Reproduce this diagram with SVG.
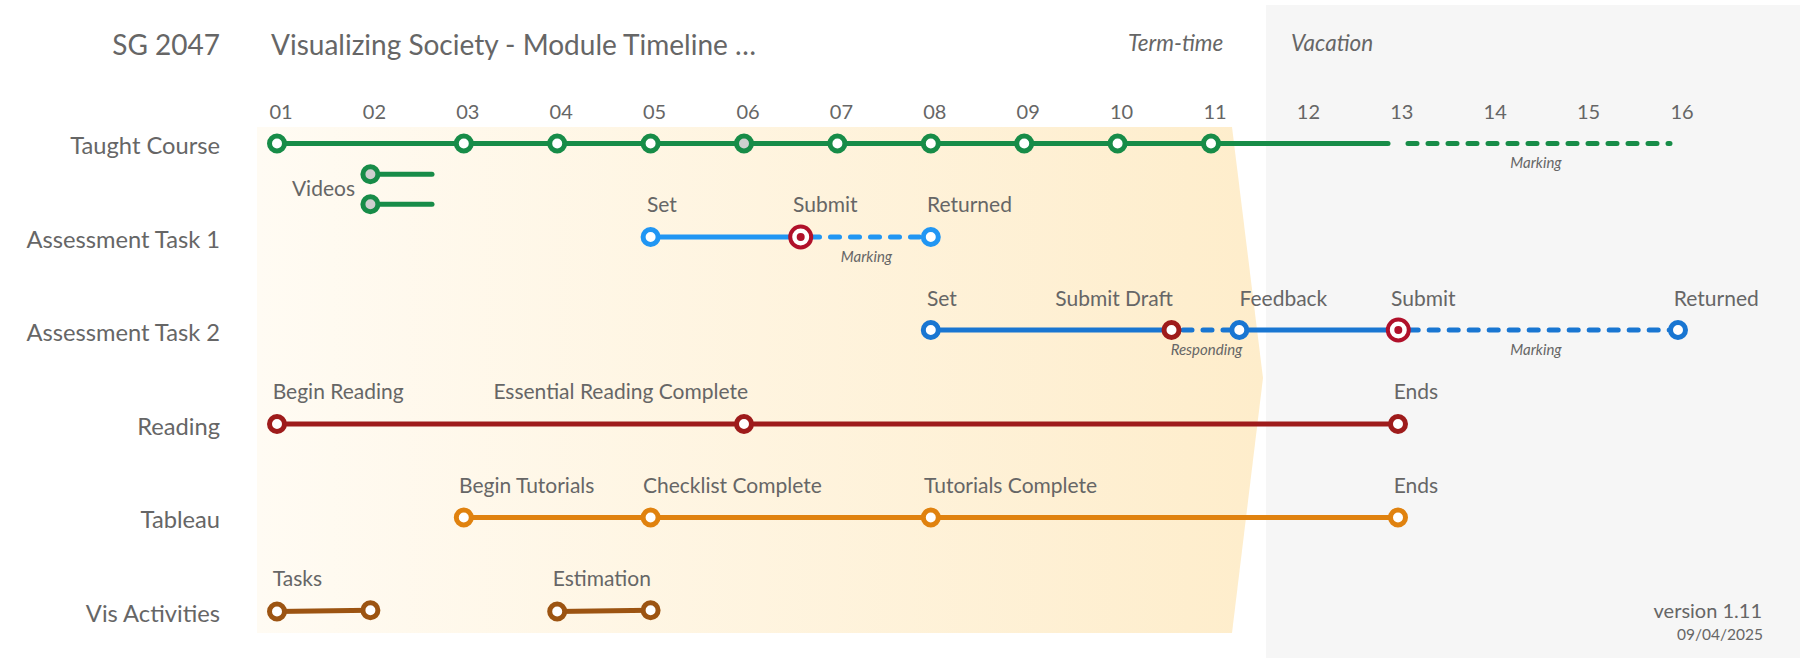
<svg xmlns="http://www.w3.org/2000/svg" width="1800" height="664" viewBox="0 0 1800 664">
  <defs>
    <linearGradient id="termGrad" x1="257" y1="0" x2="1263" y2="0" gradientUnits="userSpaceOnUse">
      <stop offset="0" stop-color="#FFFBF3"/>
      <stop offset="1" stop-color="#FEEDCB"/>
    </linearGradient>
    <style>
      text { font-family: Lato, "Liberation Sans", sans-serif; fill: #666666; }
      .title { font-size: 28px; }
      .week { font-size: 20px; text-anchor: middle; }
      .row { font-size: 23.7px; text-anchor: end; }
      .lbl { font-size: 21px; }
      .lbl-end { font-size: 21px; text-anchor: end; }
      .note { font-size: 15px; font-style: italic; text-anchor: middle; }
      .period { font-size: 22.5px; font-style: italic; }
      .line { fill: none; stroke-width: 5; stroke-linecap: round; }
      .dash { stroke-dasharray: 9 11; }
      .green { stroke: #178C48; }
      .blue1 { stroke: #2196F3; }
      .blue2 { stroke: #1976D2; }
      .red { stroke: #9E1B1B; }
      .orange { stroke: #E0820F; }
      .brown { stroke: #9C5412; }
      .node { fill: #FFFFFF; stroke-width: 5; }
      .node.grey { fill: #CFCFCF; }
      .target { fill: #FFFFFF; stroke: #B0102A; stroke-width: 4; }
      .dot { fill: #B0102A; }
    </style>
  </defs>

  <!-- background periods -->
  <g id="backgrounds">
    <rect x="1266" y="5" width="534" height="653" fill="#F6F6F6"/>
    <polygon points="257,127 1232,127 1263,378 1232,633 257,633" fill="url(#termGrad)"/>
  </g>

  <!-- header -->
  <g id="header">
    <text class="title" x="220" y="55" text-anchor="end">SG 2047</text>
    <text class="title" x="271" y="55">Visualizing Society - Module Timeline …</text>
    <text class="period" x="1128" y="51">Term-time</text>
    <text class="period" x="1291" y="51">Vacation</text>
  </g>

  <g id="weeks">
    <text class="week" x="281" y="119">01</text>
    <text class="week" x="374.4" y="119">02</text>
    <text class="week" x="467.8" y="119">03</text>
    <text class="week" x="561.2" y="119">04</text>
    <text class="week" x="654.6" y="119">05</text>
    <text class="week" x="748" y="119">06</text>
    <text class="week" x="841.4" y="119">07</text>
    <text class="week" x="934.8" y="119">08</text>
    <text class="week" x="1028.2" y="119">09</text>
    <text class="week" x="1121.6" y="119">10</text>
    <text class="week" x="1215" y="119">11</text>
    <text class="week" x="1308.4" y="119">12</text>
    <text class="week" x="1401.8" y="119">13</text>
    <text class="week" x="1495.2" y="119">14</text>
    <text class="week" x="1588.6" y="119">15</text>
    <text class="week" x="1682" y="119">16</text>
  </g>

  <g id="row-labels">
    <text class="row" x="220" y="154">Taught Course</text>
    <text class="row" x="220" y="248">Assessment Task 1</text>
    <text class="row" x="220" y="341">Assessment Task 2</text>
    <text class="row" x="220" y="435">Reading</text>
    <text class="row" x="220" y="528">Tableau</text>
    <text class="row" x="220" y="622">Vis Activities</text>
  </g>

  <!-- connectors -->
  <g id="connectors">
    <path class="line green" d="M277 143.5 H1388"/>
    <path class="line green dash" d="M1408 143.5 H1670"/>
    <path class="line green" stroke-width="4.5" d="M370.4 174.3 H432"/>
    <path class="line green" stroke-width="4.5" d="M370.4 204.3 H432"/>
    <path class="line blue1" d="M650.6 237 H800.7"/>
    <path class="line blue1 dash" d="M810.5 237 H926"/>
    <path class="line blue2" d="M930.8 330 H1171.5"/>
    <path class="line blue2 dash" d="M1183 330 H1232"/>
    <path class="line blue2" d="M1239.3 330 H1398.3"/>
    <path class="line blue2 dash" d="M1409.2 330 H1670"/>
    <path class="line red" d="M277 424 H1398"/>
    <path class="line orange" d="M463.8 517.5 H1398"/>
    <path class="line brown" stroke-width="4.5" d="M277 611.5 L370.4 610.3"/>
    <path class="line brown" stroke-width="4.5" d="M557.2 611.5 L650.6 610.3"/>
  </g>

  <g id="connector-labels">
    <text class="note" x="1536" y="168">Marking</text>
    <text class="note" x="866.5" y="262">Marking</text>
    <text class="note" x="1206.5" y="355">Responding</text>
    <text class="note" x="1536" y="355">Marking</text>
  </g>

  <!-- Taught Course nodes -->
  <g id="tc-w01"><circle class="node green" cx="277" cy="143.5" r="7.5"/></g>
  <g id="tc-w03"><circle class="node green" cx="463.8" cy="143.5" r="7.5"/></g>
  <g id="tc-w04"><circle class="node green" cx="557.2" cy="143.5" r="7.5"/></g>
  <g id="tc-w05"><circle class="node green" cx="650.6" cy="143.5" r="7.5"/></g>
  <g id="tc-w06"><circle class="node grey green" cx="744" cy="143.5" r="7.5"/></g>
  <g id="tc-w07"><circle class="node green" cx="837.4" cy="143.5" r="7.5"/></g>
  <g id="tc-w08"><circle class="node green" cx="930.8" cy="143.5" r="7.5"/></g>
  <g id="tc-w09"><circle class="node green" cx="1024.2" cy="143.5" r="7.5"/></g>
  <g id="tc-w10"><circle class="node green" cx="1117.6" cy="143.5" r="7.5"/></g>
  <g id="tc-w11"><circle class="node green" cx="1211" cy="143.5" r="7.5"/></g>

  <g id="videos">
    <text class="lbl-end" x="355" y="196">Videos</text>
    <circle class="node grey green" cx="370.4" cy="174.3" r="7.5"/>
    <circle class="node grey green" cx="370.4" cy="204.3" r="7.5"/>
  </g>

  <!-- Assessment Task 1 -->
  <g id="at1-set">
    <circle class="node blue1" cx="650.6" cy="237" r="7.5"/>
    <text class="lbl" x="647" y="212">Set</text>
  </g>
  <g id="at1-submit">
    <circle class="target" cx="800.7" cy="237" r="10.5"/>
    <circle class="dot" cx="800.7" cy="237" r="4"/>
    <text class="lbl" x="793" y="212">Submit</text>
  </g>
  <g id="at1-returned">
    <circle class="node blue1" cx="930.8" cy="237" r="7.5"/>
    <text class="lbl" x="927" y="212">Returned</text>
  </g>

  <!-- Assessment Task 2 -->
  <g id="at2-set">
    <circle class="node blue2" cx="930.8" cy="330" r="7.5"/>
    <text class="lbl" x="927" y="305.5">Set</text>
  </g>
  <g id="at2-draft">
    <circle class="node red" cx="1171.5" cy="330" r="7.5"/>
    <text class="lbl-end" x="1173" y="305.5">Submit Draft</text>
  </g>
  <g id="at2-feedback">
    <circle class="node blue2" cx="1239.3" cy="330" r="7.5"/>
    <text class="lbl" x="1239.5" y="305.5">Feedback</text>
  </g>
  <g id="at2-submit">
    <circle class="target" cx="1398.3" cy="330" r="10.5"/>
    <circle class="dot" cx="1398.3" cy="330" r="4"/>
    <text class="lbl" x="1391" y="305.5">Submit</text>
  </g>
  <g id="at2-returned">
    <circle class="node blue2" cx="1678" cy="330" r="7.5"/>
    <text class="lbl" x="1673.8" y="305.5">Returned</text>
  </g>

  <!-- Reading -->
  <g id="rd-begin">
    <circle class="node red" cx="277" cy="424" r="7.5"/>
    <text class="lbl" x="272.7" y="399">Begin Reading</text>
  </g>
  <g id="rd-essential">
    <circle class="node red" cx="744" cy="424" r="7.5"/>
    <text class="lbl-end" x="748" y="399">Essential Reading Complete</text>
  </g>
  <g id="rd-ends">
    <circle class="node red" cx="1398" cy="424" r="7.5"/>
    <text class="lbl" x="1393.7" y="399">Ends</text>
  </g>

  <!-- Tableau -->
  <g id="tb-begin">
    <circle class="node orange" cx="463.8" cy="517.5" r="7.5"/>
    <text class="lbl" x="459" y="492.5">Begin Tutorials</text>
  </g>
  <g id="tb-checklist">
    <circle class="node orange" cx="650.6" cy="517.5" r="7.5"/>
    <text class="lbl" x="643" y="492.5">Checklist Complete</text>
  </g>
  <g id="tb-complete">
    <circle class="node orange" cx="930.8" cy="517.5" r="7.5"/>
    <text class="lbl" x="924" y="492.5">Tutorials Complete</text>
  </g>
  <g id="tb-ends">
    <circle class="node orange" cx="1398" cy="517.5" r="7.5"/>
    <text class="lbl" x="1393.7" y="492.5">Ends</text>
  </g>

  <!-- Vis Activities -->
  <g id="va-tasks">
    <circle class="node brown" cx="277" cy="611.5" r="7.5"/>
    <circle class="node brown" cx="370.4" cy="610.3" r="7.5"/>
    <text class="lbl" x="272.7" y="586">Tasks</text>
  </g>
  <g id="va-estimation">
    <circle class="node brown" cx="557.2" cy="611.5" r="7.5"/>
    <circle class="node brown" cx="650.6" cy="610.3" r="7.5"/>
    <text class="lbl" x="552.8" y="586">Estimation</text>
  </g>

  <g id="footer">
    <text x="1762" y="618" font-size="20" text-anchor="end">version 1.11</text>
    <text x="1763" y="640" font-size="15.5" text-anchor="end">09/04/2025</text>
  </g>
</svg>
